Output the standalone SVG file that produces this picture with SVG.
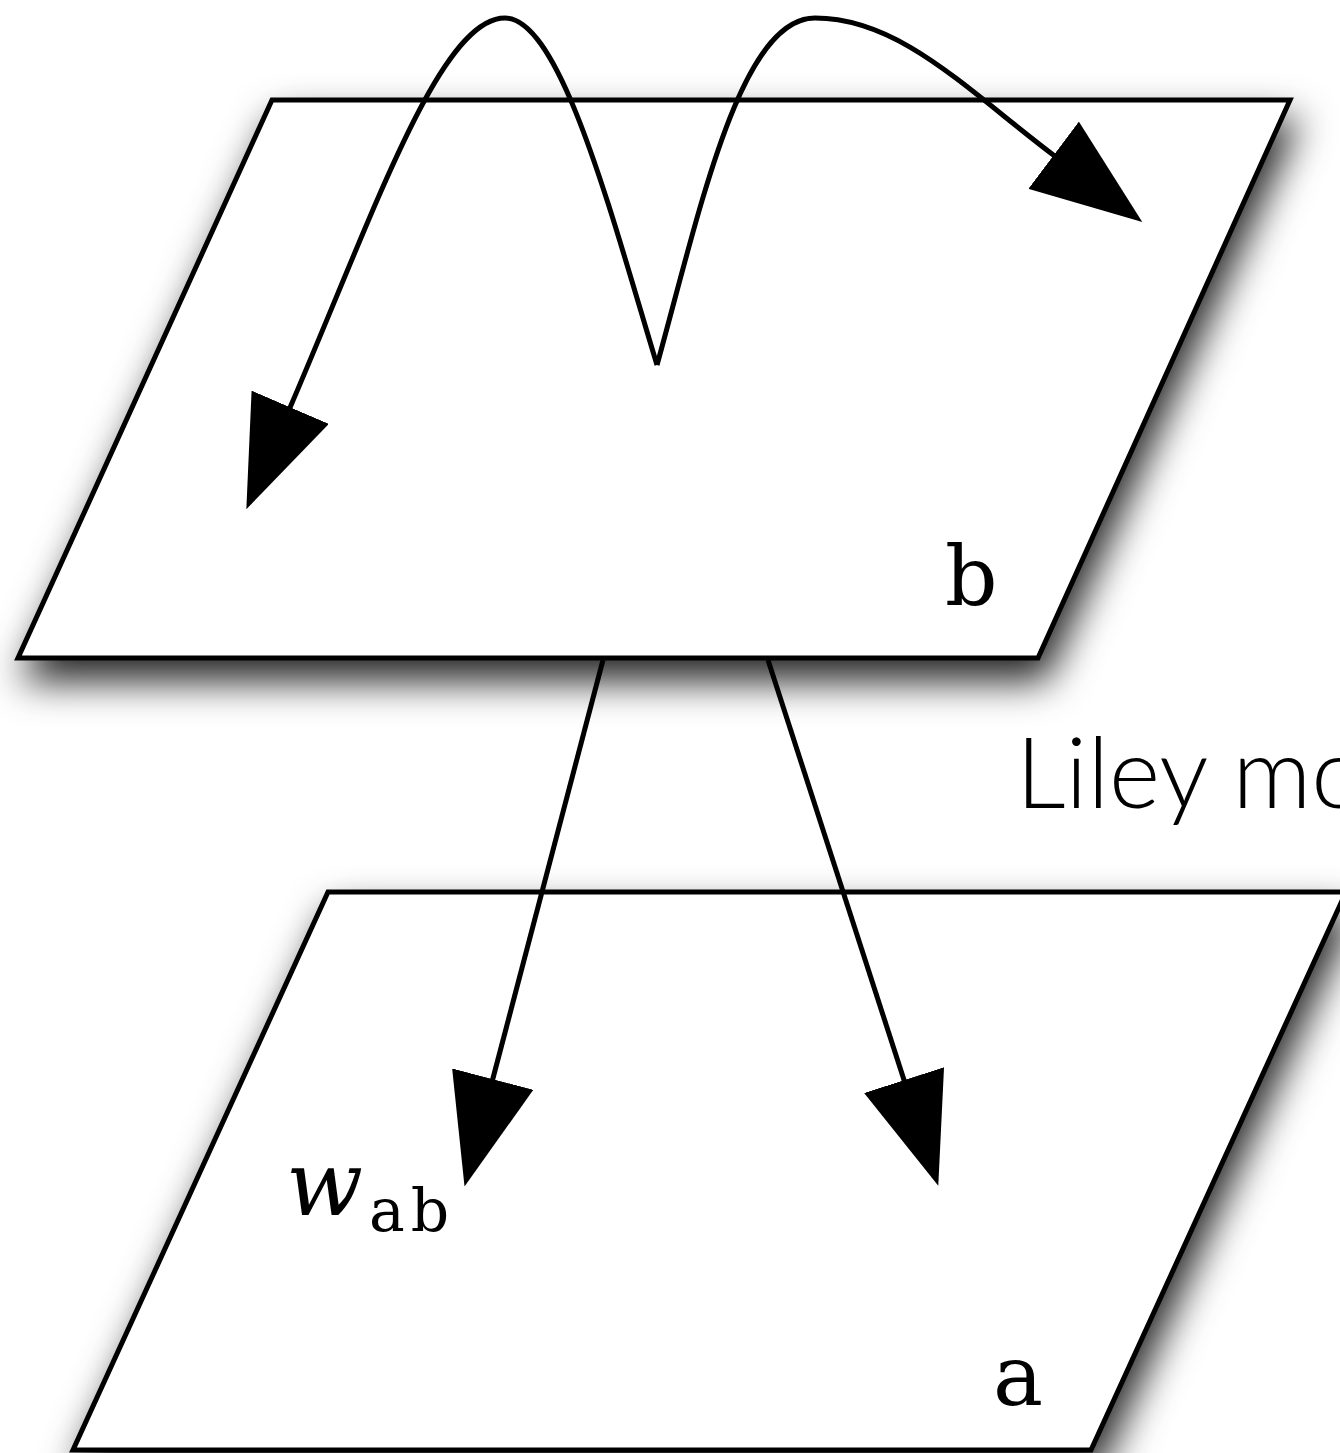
<svg xmlns="http://www.w3.org/2000/svg" width="1340" height="1453" viewBox="0 0 1340 1453">
<defs>
<filter id="shadow" x="-10%" y="-25%" width="125%" height="155%">
<feDropShadow dx="6" dy="21" stdDeviation="19" flood-color="#000" flood-opacity="0.85"/>
</filter>
<marker id="arrow" viewBox="0 0 111 84" markerUnits="userSpaceOnUse" markerWidth="111" markerHeight="84" refX="3" refY="42" orient="auto">
<path d="M0,0 L111,42 L0,84 Z" fill="#000"/>
</marker>
</defs>
<style>
.plane{fill:#fff;stroke:#000;stroke-width:5;stroke-linejoin:miter;filter:url(#shadow)}
.conn{fill:none;stroke:#000;stroke-width:5;marker-end:url(#arrow)}
.math{font-family:"DejaVu Serif","Liberation Serif",serif;fill:#000}
.note{font-family:"Lato","Liberation Sans",sans-serif;font-weight:300;fill:#000}
</style>
<rect width="1340" height="1453" fill="#fff"/>
<g id="plane-a">
<polygon class="plane" points="328,892 1346,892 1091,1450 73,1450"/>
<text class="math" x="993" y="1405" font-size="84">a</text>
</g>
<g id="plane-b">
<polygon class="plane" points="272,100 1290,100 1038,658 18,658"/>
<text class="math" x="945" y="605" font-size="82">b</text>
</g>
<g id="label-wab">
<text class="math" x="286" y="1215" font-size="90" font-style="italic">w<tspan font-style="normal" font-size="60" dx="6" dy="16" letter-spacing="6">ab</tspan></text>
</g>
<g id="label-liley">
<text class="note" x="1016" y="808" font-size="98">Liley mo</text>
</g>
<g id="connectors">
<path class="conn" d="M657,365 C610,210 560,18 505,18 C440,18 375,210 289,410"/>
<path class="conn" d="M657,365 C700,210 740,18 815,18 C900,18 967,90 1056,157"/>
<path class="conn" d="M603,660 L492,1082"/>
<path class="conn" d="M768,660 L905,1083"/>
</g>
</svg>
